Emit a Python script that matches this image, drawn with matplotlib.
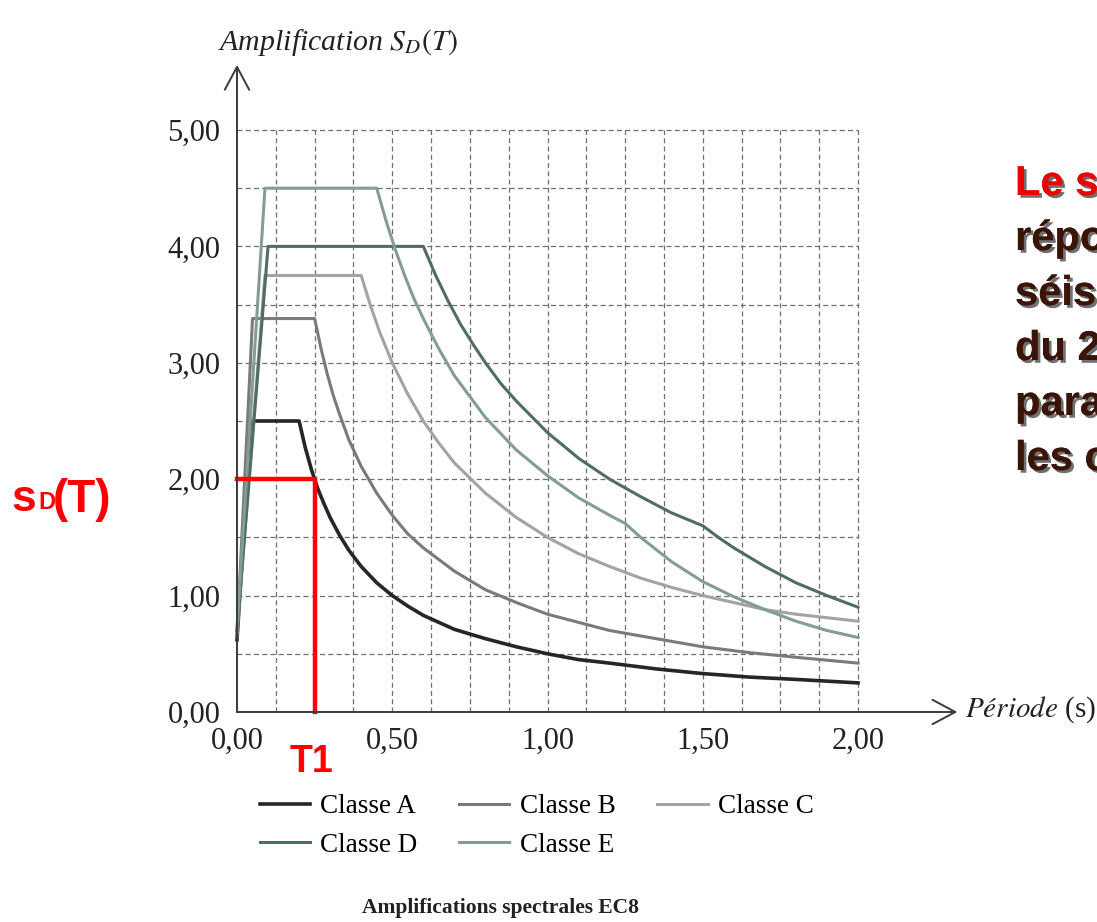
import matplotlib.pyplot as plt
import matplotlib.patheffects as pe

# Spectral amplification curves (period in s, amplification)
T_A = [0, 0.045, 0.20, 0.22, 0.24, 0.26, 0.28, 0.30, 0.33, 0.36, 0.40, 0.45, 0.50, 0.55, 0.60,
       0.70, 0.80, 0.90, 1.00, 1.10, 1.20, 1.35, 1.50, 1.65, 1.80, 2.00]
S_A = [0.62, 2.50, 2.50, 2.27, 2.08, 1.92, 1.79, 1.67, 1.52, 1.39, 1.25, 1.11, 1.00, 0.91, 0.83,
       0.71, 0.63, 0.56, 0.50, 0.45, 0.42, 0.37, 0.33, 0.30, 0.28, 0.25]

T_B = [0, 0.05, 0.25, 0.27, 0.29, 0.31, 0.33, 0.36, 0.40, 0.45, 0.50, 0.55, 0.60, 0.70, 0.80,
       0.90, 1.00, 1.10, 1.20, 1.35, 1.50, 1.65, 1.80, 2.00]
S_B = [0.65, 3.38, 3.38, 3.13, 2.91, 2.72, 2.56, 2.34, 2.11, 1.88, 1.69, 1.53, 1.41, 1.21, 1.05,
       0.94, 0.84, 0.77, 0.70, 0.63, 0.56, 0.51, 0.47, 0.42]

T_C = [0, 0.09, 0.40, 0.43, 0.46, 0.50, 0.55, 0.60, 0.65, 0.70, 0.80, 0.90, 1.00, 1.10, 1.20,
       1.30, 1.40, 1.50, 1.60, 1.70, 1.80, 1.90, 2.00]
S_C = [0.68, 3.75, 3.75, 3.49, 3.26, 3.00, 2.73, 2.50, 2.31, 2.14, 1.88, 1.67, 1.50, 1.36, 1.25,
       1.15, 1.07, 1.00, 0.94, 0.88, 0.84, 0.81, 0.78]

T_D = [0, 0.10, 0.60, 0.64, 0.68, 0.72, 0.76, 0.80, 0.85, 0.90, 1.00, 1.10, 1.20, 1.30, 1.40,
       1.50, 1.55, 1.60, 1.70, 1.80, 1.90, 2.00]
S_D = [0.70, 4.00, 4.00, 3.75, 3.53, 3.33, 3.16, 3.00, 2.82, 2.67, 2.40, 2.18, 2.00, 1.85, 1.71,
       1.60, 1.50, 1.41, 1.25, 1.11, 1.00, 0.90]

T_E = [0, 0.09, 0.45, 0.48, 0.51, 0.54, 0.57, 0.60, 0.65, 0.70, 0.80, 0.90, 1.00, 1.10, 1.20,
       1.25, 1.30, 1.40, 1.50, 1.60, 1.70, 1.80, 1.90, 2.00]
S_E = [0.72, 4.50, 4.50, 4.22, 3.97, 3.75, 3.55, 3.38, 3.12, 2.89, 2.53, 2.25, 2.03, 1.84, 1.69,
       1.62, 1.50, 1.29, 1.12, 0.99, 0.88, 0.78, 0.70, 0.64]

classes = ['Classe A', 'Classe B', 'Classe C', 'Classe D', 'Classe E']
colors = ['#262626', '#7a7a7a', '#a3a3a3', '#4f6d66', '#849c96']

x_ticks = [0, 0.5, 1.0, 1.5, 2.0]
x_labels = ['0,00', '0,50', '1,00', '1,50', '2,00']
y_ticks = [0, 1, 2, 3, 4, 5]
y_labels = ['0,00', '1,00', '2,00', '3,00', '4,00', '5,00']

# red reading of the spectrum
T1 = 0.25
SD_T1 = 2.0

right_text = ['Le s', 'répo', 'séis', 'du 2', 'para', 'les c']

plt.rcParams['font.family'] = 'Liberation Serif'
plt.rcParams['mathtext.fontset'] = 'stix'

fig = plt.figure(figsize=(10.97, 9.22), dpi=100)
ax = fig.add_axes([0.21604, 0.22777, 0.65670, 0.70195])
ax.set_xlim(0, 2.32)
ax.set_ylim(0, 5.56)
for s in ax.spines.values():
    s.set_visible(False)

# dashed grid, only over 0-2 s and 0-5
grid_x = [0.125 * k for k in range(1, 17)]
grid_y = [0.5 * k for k in range(1, 11)]
ax.vlines(grid_x, 0, 5, colors='#6f6f6f', linewidth=0.9, linestyles=(0, (4, 2.6)))
ax.hlines(grid_y, 0, 2, colors='#6f6f6f', linewidth=0.9, linestyles=(0, (4, 2.6)))

# axes as arrows
arrow = dict(arrowstyle='->,head_length=0.75,head_width=0.4', color='#3a3a3a', lw=1.4,
             mutation_scale=22, shrinkA=0, shrinkB=0)
ax.annotate('', xy=(2.32, 0), xytext=(0, 0), arrowprops=arrow, annotation_clip=False)
ax.annotate('', xy=(0, 5.56), xytext=(0, 0), arrowprops=arrow, annotation_clip=False)

series = [(T_A, S_A), (T_B, S_B), (T_C, S_C), (T_D, S_D), (T_E, S_E)]
lines = []
for (t, s), c, name in zip(series, colors, classes):
    lw = 2.6 if name == 'Classe A' else 2.2
    ln, = ax.plot(t, s, color=c, lw=lw, label=name, clip_on=False, solid_joinstyle='round')
    lines.append(ln)

ax.plot([0, T1, T1], [SD_T1, SD_T1, 0], color='#ff0000', lw=3.2, clip_on=False,
        solid_joinstyle='miter')

ax.set_xticks(x_ticks)
ax.set_xticklabels(x_labels)
ax.set_yticks(y_ticks)
ax.set_yticklabels(y_labels)
ax.tick_params(axis='both', length=0, labelsize=22, colors='#222222')
ax.tick_params(axis='x', pad=11)
ax.tick_params(axis='y', pad=12)

fig.text(218 / 1097, 1 - 43 / 922, 'Amplification $S_D(T)$', fontsize=21.5, style='italic',
         va='center', ha='left', color='#222222')
fig.text(965 / 1097, 1 - 710 / 922, '$\\it{Période}$ (s)', fontsize=21, va='center',
         ha='left', color='#222222')

# legend: order so rows read A B C / D E
order = [0, 3, 1, 4, 2]
fig.legend([lines[i] for i in order], [classes[i] for i in order], ncol=3,
           loc='center left', bbox_to_anchor=(246 / 1097, 1 - 826 / 922), frameon=False,
           fontsize=19.5, handlelength=1.85, handletextpad=0.38, columnspacing=1.55,
           labelspacing=0.5, borderpad=0)

fig.text(500 / 1097, 1 - 908 / 922, 'Amplifications spectrales EC8', fontsize=15.5,
         fontweight='bold', ha='center', va='center', color='#222222')

# red annotations
fig.text(312 / 1097, 1 - 762 / 922, 'T1', fontsize=27, fontweight='bold', color='#ff0000',
         family='Liberation Sans', ha='center', va='center')
fig.text(11 / 1097, 1 - 511 / 922, 's', fontsize=32, fontweight='bold', color='#ff0000',
         family='Liberation Sans', ha='left', va='baseline')
fig.text(38 / 1097, 1 - 509 / 922, 'D', fontsize=17, fontweight='bold', color='#ff0000',
         family='Liberation Sans', ha='left', va='baseline')
fig.text(53 / 1097, 1 - 512 / 922, '(T)', fontsize=33, fontweight='bold', color='#ff0000',
         family='Liberation Sans', ha='left', va='baseline')

# clipped slide text on the right
shadow = [pe.withSimplePatchShadow(offset=(2, -2), shadow_rgbFace='#333333', alpha=0.7),
          pe.Normal()]
for i, word in enumerate(right_text):
    col = '#ee0000' if i == 0 else '#3b1408'
    fig.text(1015 / 1097, 1 - (195 + 55 * i) / 922, word, fontsize=30, fontweight='bold',
             color=col, family='Liberation Sans', ha='left', va='baseline',
             path_effects=shadow)

fig.savefig('out.png', dpi=100)
